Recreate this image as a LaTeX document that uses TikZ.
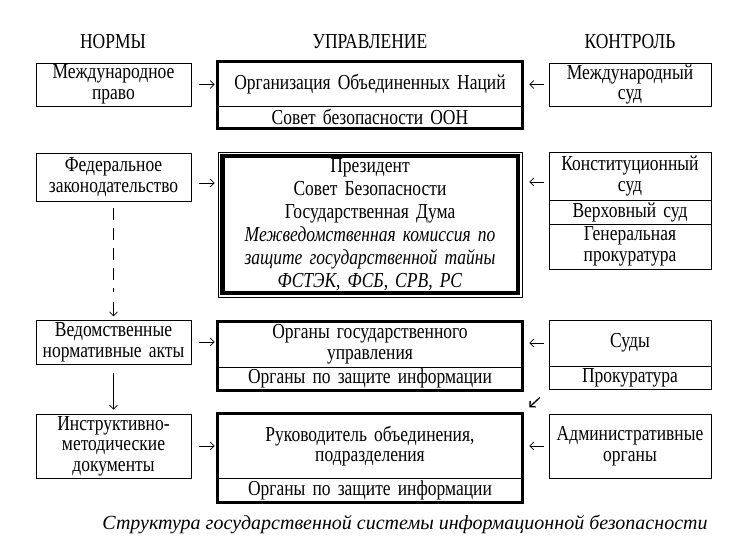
\documentclass[tikz,border=0pt]{standalone}
\usepackage{fontspec}
\setmainfont{Liberation Serif}[FakeStretch=0.82, WordSpace=0.75]
\newfontfamily\capfont{Liberation Serif}
\usetikzlibrary{arrows.meta,calc}

\tikzset{
  txt/.style={font=\fontsize{16pt}{15.5pt}\selectfont},
  box/.style={txt, draw, line width=0.6pt, align=center, inner sep=0pt},
  normbox/.style={box, minimum width=116.25pt, text width=114pt},
  upbox/.style={box, minimum width=228pt, text width=224pt},
  ctrlbox/.style={box, minimum width=121.5pt, text width=119pt},
  frame/.style={line width=1.8pt},
  arr/.style={line width=0.5pt, -{Straight Barb[length=3pt,width=6pt]}},
}

\begin{document}
\begin{tikzpicture}[x=0.75pt, y=-0.75pt]
  \useasboundingbox (0,0) rectangle (753,556);
  % column heads
  \node[txt] (hnorm) at (113,42) {НОРМЫ};
  \node[txt] (hupr) at (370,42) {УПРАВЛЕНИЕ};
  \node[txt] (hctrl) at (630,42) {КОНТРОЛЬ};

  % row 1
  \node[normbox, minimum height=32.25pt] (n1) at (113.5,84.5) {Международное\\право};
  \node[upbox, minimum height=33pt] (m1) at (370,84) {Организация Объединенных Наций};
  \node[upbox, minimum height=16.5pt] (m1b) at (370,117) {Совет безопасности ООН};
  \draw[frame] (m1.north west) rectangle (m1b.south east);
  \node[ctrlbox, minimum height=32.25pt] (k1) at (630,84.5) {Международный\\суд};

  % row 2
  \node[normbox, minimum height=36pt] (n2) at (113.5,177) {Федеральное\\законодательство};
  \node[box, minimum width=228pt, minimum height=108.75pt, text width=224pt,
    font=\fontsize{16pt}{17.25pt}\selectfont] (m2) at (370,224.5)
    {Президент\\Совет Безопасности\\Государственная Дума\\
     \textit{Межведомственная комиссия по}\\\textit{защите государственной тайны}\\
     \textit{ФСТЭК, ФСБ, СРВ, РС}};
  \draw[line width=3.6pt] ($(m2.north west)+(4.5,4.5)$) rectangle ($(m2.south east)+(-4.5,-4.5)$);
  \node[ctrlbox, minimum height=36pt] (k2) at (630,176) {Конституционный\\суд};
  \node[ctrlbox, minimum height=18pt] (k2b) at (630,212) {Верховный суд};
  \node[ctrlbox, minimum height=33.75pt] (k2c) at (630,246.5) {Генеральная\\прокуратура};

  % row 3
  \node[normbox, minimum height=33pt] (n3) at (113.5,342) {Ведомственные\\нормативные акты};
  \node[upbox, minimum height=33.75pt] (m3) at (370,344.5) {Органы государственного\\управления};
  \node[upbox, minimum height=17.25pt] (m3b) at (370,378.5) {Органы по защите информации};
  \draw[frame] (m3.north west) rectangle (m3b.south east);
  \node[ctrlbox, minimum height=34.5pt] (k3) at (630,343) {Суды};
  \node[ctrlbox, minimum height=17.25pt] (k3b) at (630,377.5) {Прокуратура};

  % row 4
  \node[normbox, minimum height=48pt] (n4) at (113.5,446) {Инструктивно-\\методические\\документы};
  \node[upbox, minimum height=48pt] (m4) at (370,446) {Руководитель объединения,\\подразделения};
  \node[upbox, minimum height=18pt] (m4b) at (370,490) {Органы по защите информации};
  \draw[frame] (m4.north west) rectangle (m4b.south east);
  \node[ctrlbox, minimum height=48pt] (k4) at (630,446) {Административные\\органы};

  % arrows norms -> management
  \coordinate (a2) at ([yshift=-4.5pt]n2.east);
  \draw[arr, shorten <=6pt, shorten >=2.25pt] (n1.east) -- (n1.east -| m1.west);
  \draw[arr, shorten <=6pt, shorten >=2.25pt] (a2) -- (a2 -| m2.west);
  \draw[arr, shorten <=6pt, shorten >=2.25pt] (n3.east) -- (n3.east -| m3.west);
  \draw[arr, shorten <=6pt, shorten >=2.25pt] (n4.east) -- (n4.east -| m4.west);

  % arrows control -> management
  \coordinate (b2) at ([yshift=-4.5pt]k2.west);
  \draw[arr, shorten <=3.75pt, shorten >=5.25pt] (k1.west) -- (k1.west -| m1.east);
  \draw[arr, shorten <=3.75pt, shorten >=5.25pt] (b2) -- (b2 -| m2.east);
  \draw[arr, shorten <=3.75pt, shorten >=5.25pt] (k3.west) -- (k3.west -| m3.east);
  \draw[arr, shorten <=3.75pt, shorten >=5.25pt] (k4.west) -- (k4.west -| m4.east);
  \draw[arr, line width=1pt, shorten <=9pt, shorten >=7pt] (k3b.south west) -- (m4.north east);

  % down the norms column
  \draw[line width=0.5pt, dash pattern=on 9pt off 6pt, shorten <=5.25pt, shorten >=21pt] (n2.south) -- (n3.north);
  \draw[arr, shorten <=75.75pt, shorten >=2.5pt] (n2.south) -- (n3.north);
  \draw[arr, shorten <=6.75pt, shorten >=3pt] (n3.south) -- (n4.north);

  % caption
  \node[font=\fontsize{15pt}{15.5pt}\capfont\itshape] (cap) at (405,524)
    {Структура государственной системы информационной безопасности};
\end{tikzpicture}
\end{document}
